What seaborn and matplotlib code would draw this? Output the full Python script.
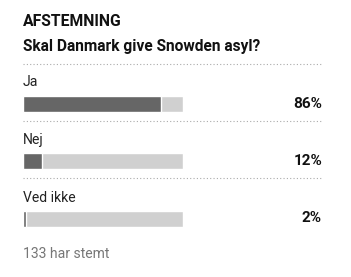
import matplotlib
matplotlib.use("Agg")
import matplotlib.pyplot as plt
import seaborn as sns
import pandas as pd

# ---- data ----
header = "AFSTEMNING"
question = "Skal Danmark give Snowden asyl?"
categories = ["Ja", "Nej", "Ved ikke"]
percent = [86, 12, 2]
total = [100, 100, 100]
footer = "133 har stemt"

sns.set_theme(style="white")
plt.rcParams['font.family'] = ['Roboto', 'DejaVu Sans']

W, H = 351, 277
fig = plt.figure(figsize=(W / 100, H / 100), dpi=100)
fig.patch.set_facecolor("white")

# overlay axes in pixel coordinates for text and rules
ov = fig.add_axes([0, 0, 1, 1])
ov.set_xlim(0, W)
ov.set_ylim(H, 0)
ov.axis("off")

# bar axes: x 0..100 -> px 23..183 ; categories spaced 57.5px, first centre at 103.5
x0, x1 = 23, 183
step = 57.5
c0 = 103.5
top_px = c0 - step / 2
bot_px = c0 + step * 2.5
ax = fig.add_axes([x0 / W, 1 - bot_px / H, (x1 - x0) / W, (bot_px - top_px) / H])
df = pd.DataFrame({"cat": categories, "pct": percent, "total": total})
sns.barplot(data=df, y="cat", x="total", color="#d0d0d0", width=16 / step,
            saturation=1, ax=ax, orient="h")
sns.barplot(data=df, y="cat", x="pct", color="#666666", width=16 / step,
            saturation=1, ax=ax, orient="h")
ax.set_xlim(0, 100)
ax.set_ylim(2.5, -0.5)
ax.axis("off")
ax.patch.set_alpha(0)

# texts
ov.text(23, 22, header, fontsize=11.3, fontweight="bold", color="#111111", va="center", ha="left")
ov.text(23, 46.5, question, fontsize=11.2, fontweight="bold", color="#111111", va="center", ha="left")

rule_y = [64, 121, 178]
for y in rule_y:
    ov.plot([23, 322], [y, y], linestyle=(0, (1, 2)), color="#aaaaaa", lw=0.8)

for i, (cat, p) in enumerate(zip(categories, percent)):
    cy = c0 + i * step
    ov.text(23, cy - 21, cat, fontsize=10.1, color="#222222", va="center", ha="left")
    ov.text(322, cy, f"{p}%", fontsize=11, fontweight="bold", color="#111111", va="center", ha="right")

ov.text(23, 254, footer, fontsize=10.1, color="#777777", va="center", ha="left")

fig.savefig("out.png", dpi=100, facecolor="white")
